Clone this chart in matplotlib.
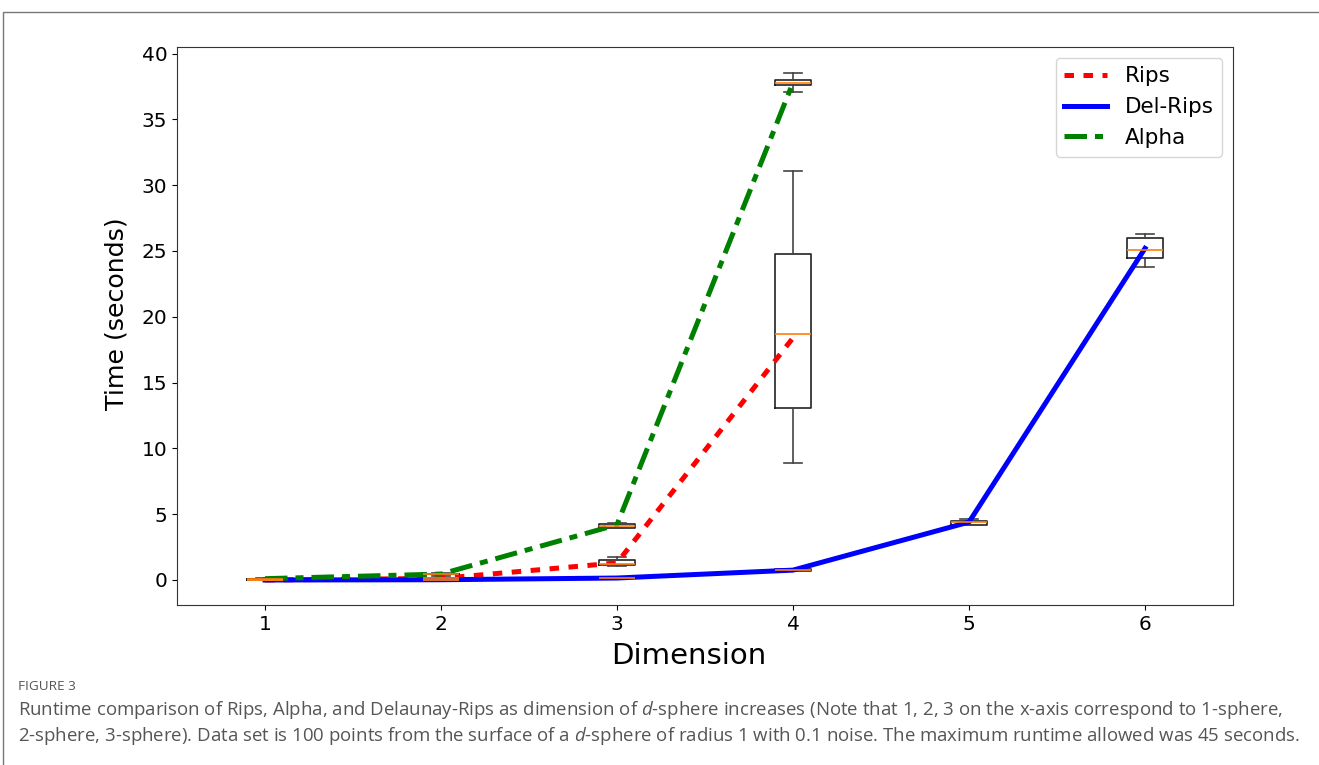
import matplotlib
matplotlib.use("Agg")
import matplotlib.pyplot as plt
from matplotlib.patches import Rectangle

# ---- data ----
dims = [1, 2, 3, 4, 5, 6]

# Rips
rips_pos = [1, 2, 3, 4]
rips_whislo = [0.0, 0.05, 1.1, 8.9]
rips_q1 = [0.0, 0.08, 1.15, 13.1]
rips_med = [0.0, 0.12, 1.25, 18.7]
rips_q3 = [0.02, 0.18, 1.5, 24.8]
rips_whishi = [0.03, 0.25, 1.75, 31.1]
rips_line = [0.0, 0.12, 1.3, 18.4]

# Del-Rips
del_pos = [1, 2, 3, 4, 5, 6]
del_whislo = [0.0, 0.0, 0.1, 0.65, 4.15, 23.8]
del_q1 = [0.0, 0.01, 0.12, 0.7, 4.2, 24.45]
del_med = [0.0, 0.02, 0.14, 0.75, 4.4, 25.1]
del_q3 = [0.0, 0.03, 0.16, 0.8, 4.5, 26.0]
del_whishi = [0.01, 0.04, 0.2, 0.85, 4.6, 26.3]
del_line = [0.0, 0.02, 0.15, 0.75, 4.4, 25.2]

# Alpha
alpha_pos = [1, 2, 3, 4]
alpha_whislo = [0.08, 0.4, 3.95, 37.1]
alpha_q1 = [0.09, 0.42, 3.98, 37.6]
alpha_med = [0.1, 0.45, 4.1, 37.75]
alpha_q3 = [0.11, 0.48, 4.25, 38.0]
alpha_whishi = [0.12, 0.5, 4.3, 38.5]
alpha_line = [0.1, 0.45, 4.2, 37.8]

yticks = [0, 5, 10, 15, 20, 25, 30, 35, 40]

caption_title = "FIGURE 3"
caption_1 = ("Runtime comparison of Rips, Alpha, and Delaunay-Rips as dimension of $d$-sphere increases "
             "(Note that 1, 2, 3 on the x-axis correspond to 1-sphere,")
caption_2 = ("2-sphere, 3-sphere). Data set is 100 points from the surface of a $d$-sphere of radius 1 "
             "with 0.1 noise. The maximum runtime allowed was 45 seconds.")


def stats(whislo, q1, med, q3, whishi):
    return [dict(whislo=a, q1=b, med=c, q3=d, whishi=e, fliers=[])
            for a, b, c, d, e in zip(whislo, q1, med, q3, whishi)]


cap_font = 'Open Sans'
plt.rcParams['mathtext.fontset'] = 'custom'
plt.rcParams['mathtext.it'] = cap_font + ':italic'
plt.rcParams['mathtext.rm'] = cap_font

fig = plt.figure(figsize=(13.19, 7.65), dpi=100)
ax = fig.add_axes([177 / 1319, 1 - 605 / 765, (1233 - 177) / 1319, (605 - 47) / 765])

bprops = dict(widths=0.2, showfliers=False,
              boxprops=dict(color='#222222', linewidth=1.2),
              whiskerprops=dict(color='#444444', linewidth=1.2),
              capprops=dict(color='#444444', linewidth=1.2),
              medianprops=dict(color='#ff7f0e', linewidth=1.2))

ax.bxp(stats(rips_whislo, rips_q1, rips_med, rips_q3, rips_whishi), positions=rips_pos, **bprops)
ax.plot(rips_pos, rips_line, color='red', linewidth=3.6, linestyle=(0, (1.9, 1.9)), label='Rips')
ax.bxp(stats(del_whislo, del_q1, del_med, del_q3, del_whishi), positions=del_pos, **bprops)
ax.plot(del_pos, del_line, color='blue', linewidth=3.6, label='Del-Rips')
ax.bxp(stats(alpha_whislo, alpha_q1, alpha_med, alpha_q3, alpha_whishi), positions=alpha_pos, **bprops)
ax.plot(alpha_pos, alpha_line, color='green', linewidth=3.6, linestyle=(0, (4.5, 1.6, 1.6, 1.6)),
        label='Alpha')

ax.set_xlim(0.5, 6.5)
ax.set_ylim(-1.9, 40.5)
ax.set_xticks(dims)
ax.set_xticklabels([str(d) for d in dims])
ax.set_yticks(yticks)
ax.tick_params(labelsize=14.5)
ax.set_xlabel('Dimension', fontsize=21)
ax.set_ylabel('Time (seconds)', fontsize=18.2)
ax.xaxis.set_label_coords(0.485, -0.066)
ax.yaxis.set_label_coords(-0.0464, 0.5215)
for s in ax.spines.values():
    s.set_color('#333333')
ax.legend(loc='upper right', fontsize=15.5)

# figure frame
fig.patches.append(Rectangle((3 / 1319, -0.1), 1.2, 1 - 12 / 765 + 0.1, transform=fig.transFigure,
                             fill=False, edgecolor='#777777', linewidth=1.0))

cap_color = '#555555'
fig.text(18 / 1319, 1 - 690 / 765, caption_title, fontsize=9.7, color=cap_color,
         family=cap_font, va='baseline')
fig.text(18 / 1319, 1 - 715 / 765, caption_1, fontsize=13.4, color=cap_color,
         family=cap_font, va='baseline')
fig.text(18 / 1319, 1 - 741 / 765, caption_2, fontsize=13.4, color=cap_color,
         family=cap_font, va='baseline')

fig.savefig('out.png', dpi=100)
